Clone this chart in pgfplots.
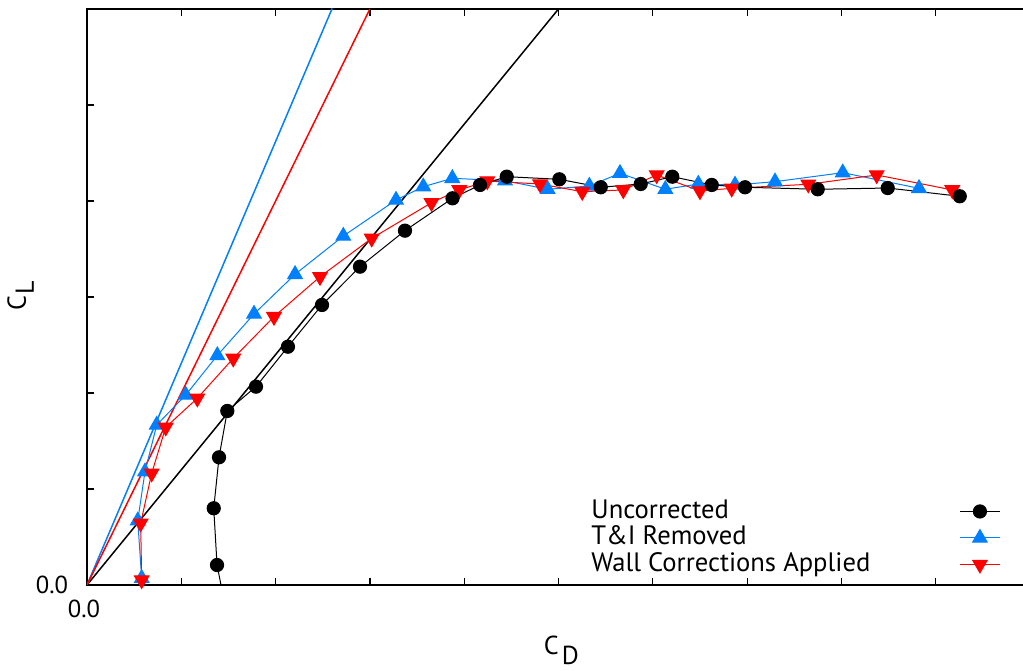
\documentclass[border=0pt]{standalone}
\usepackage{fontspec}
\setmainfont{PT Sans}
\usepackage{pgfplots}
\pgfplotsset{compat=1.18}
\definecolor{cblue}{RGB}{0,128,255}
\definecolor{cred}{RGB}{255,0,0}
\begin{document}
\begin{tikzpicture}
\begin{axis}[
  name=ax,
  scale only axis,
  width=471.5pt, height=288pt,
  xmin=0, xmax=10, ymin=0, ymax=6,
  xtick={0,1,...,9}, xticklabels={0.0},
  ytick={0,1,...,6}, yticklabels={0.0},
  ytick pos=left,
  tick align=inside,
  major tick length=3.5pt,
  every tick/.style={black, line width=0.6pt},
  axis line style={line width=1.4pt},
  tick label style={font=\fontsize{12.3pt}{14pt}\selectfont},
  xticklabel style={xshift=-1.5pt, yshift=-4pt},
  yticklabel style={xshift=-6pt},
  label style={font=\fontsize{13pt}{15pt}\selectfont},
  xlabel={C\hspace{1.5pt}\raisebox{-5pt}{D}},
  ylabel={C\hspace{1pt}\raisebox{-4pt}{L}},
  xlabel style={at={(axis description cs:0.503,-0.113)}, anchor=center},
  ylabel style={at={(axis description cs:-0.0705,0.502)}, anchor=center},
  legend plot pos=right,
  legend cell align=left,
  legend image code/.code={\draw[mark repeat=2,mark phase=2,#1] plot coordinates {(0pt,0pt) (10pt,0pt) (20pt,0pt)};},
  legend style={at={(axis cs:5.345,0.895)}, anchor=north west, draw=none, fill=none,
    inner sep=0pt, row sep=1.25pt, column sep=0pt,
    font=\fontsize{13.3pt}{15pt}\selectfont,
    nodes={inner sep=0pt, text height=9.5pt, text depth=2.5pt}},
]
% legend
\addlegendimage{black, line width=0.5pt, mark=*, mark size=3.3pt, mark options={solid, fill=black}}
\addlegendentry{\makebox[184pt][l]{Uncorrected}}
\addlegendimage{cblue, line width=0.5pt, mark=triangle*, mark size=4.2pt, mark options={solid, fill=cblue}}
\addlegendentry{\makebox[184pt][l]{T\&I Removed}}
\addlegendimage{cred, line width=0.5pt, mark=triangle*, mark size=4.2pt, mark options={solid, fill=cred, rotate=180}}
\addlegendentry{\makebox[184pt][l]{Wall Corrections Applied}}
% reference lines
\addplot[forget plot, black, line width=0.75pt] coordinates {(0,0) (5,6)};
\addplot[forget plot, cblue, line width=0.75pt] coordinates {(0,0) (2.6,6.006)};
\addplot[forget plot, cred, line width=0.75pt] coordinates {(0,0) (3,6)};
% T&I removed
\addplot[forget plot, cblue, line width=0.5pt, mark=triangle*, mark size=4.2pt, mark options={fill=cblue}] coordinates {
(0.580,0.070) (0.538,0.670) (0.615,1.180) (0.739,1.667) (1.047,1.979) (1.382,2.391)
(1.771,2.823) (2.206,3.236) (2.718,3.635) (3.277,4.010) (3.566,4.149) (3.874,4.236)
(4.433,4.211) (4.885,4.122) (5.327,4.156) (5.652,4.289) (6.133,4.122) (6.483,4.177)
(6.872,4.167) (7.296,4.201) (8.014,4.295) (8.823,4.132)
};
% Wall corrections
\addplot[forget plot, cred, line width=0.5pt, mark=triangle*, mark size=4.2pt, mark options={fill=cred, rotate=180}] coordinates {
(0.580,0.052) (0.569,0.643) (0.686,1.164) (0.835,1.643) (1.170,1.945) (1.551,2.361)
(1.983,2.795) (2.471,3.211) (3.019,3.611) (3.653,3.982) (3.948,4.115) (4.245,4.208)
(4.804,4.177) (5.252,4.097) (5.687,4.115) (6.041,4.271) (6.500,4.104) (6.837,4.132)
(7.649,4.174) (8.374,4.271) (9.176,4.115)
};
% Uncorrected
\addplot[forget plot, black, line width=0.5pt, mark=*, mark size=3.3pt, mark options={fill=black}] coordinates {
(1.463,-0.208) (1.379,0.208) (1.344,0.799) (1.400,1.330) (1.488,1.813) (1.792,2.066)
(2.131,2.482) (2.492,2.917) (2.895,3.316) (3.372,3.691) (3.876,4.028) (4.168,4.167)
(4.451,4.253) (5.009,4.226) (5.448,4.143) (5.872,4.177) (6.207,4.253) (6.625,4.167)
(6.978,4.143) (7.749,4.122) (8.491,4.135) (9.255,4.049)
};
\end{axis}
\pgfresetboundingbox
\path[use as bounding box] ([xshift=-43.5pt,yshift=-43pt]ax.south west) rectangle ([xshift=468pt,yshift=4.5pt]ax.north west);
\end{tikzpicture}
\end{document}
